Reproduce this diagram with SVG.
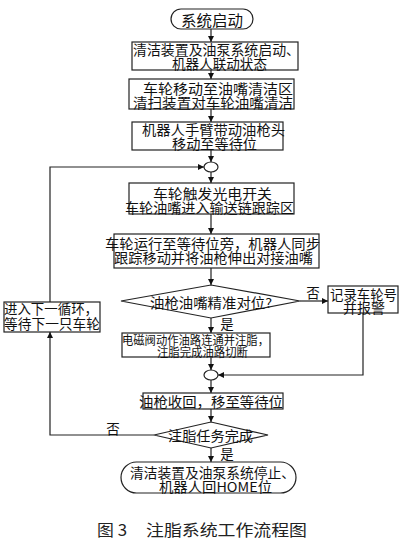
<svg xmlns="http://www.w3.org/2000/svg" width="408" height="542" viewBox="0 0 408 542">
<defs>
<marker id="ah" viewBox="0 0 10 10" refX="10" refY="5" markerWidth="6" markerHeight="6" orient="auto" markerUnits="userSpaceOnUse"><path d="M0,0 L10,5 L0,10 z" fill="#111"/></marker>
<style>
.b{fill:#fff;stroke:#222;stroke-width:1.2}
.t{font-family:"Noto Sans CJK SC","Liberation Serif",serif;font-size:13.5px;fill:#111;dominant-baseline:central}
.m{text-anchor:middle}
.s{font-size:12px}
.c{stroke:#222;stroke-width:1.2;fill:none}
.cap{font-family:"Noto Sans CJK SC",sans-serif;font-size:16px;fill:#222}
</style>
</defs>
<rect width="408" height="542" fill="#fff"/>
<g id="connectors">
<path class="c" d="M211,29 V42" marker-end="url(#ah)"/>
<path class="c" d="M211,70 V79" marker-end="url(#ah)"/>
<path class="c" d="M211,109 V122" marker-end="url(#ah)"/>
<path class="c" d="M211,150 V162" marker-end="url(#ah)"/>
<path class="c" d="M211,172 V183" marker-end="url(#ah)"/>
<path class="c" d="M211,214 V234" marker-end="url(#ah)"/>
<path class="c" d="M211,268 V285" marker-end="url(#ah)"/>
<path class="c" d="M211,318 V333" marker-end="url(#ah)"/>
<path class="c" d="M211,357 V370" marker-end="url(#ah)"/>
<path class="c" d="M211,380 V393" marker-end="url(#ah)"/>
<path class="c" d="M211,409 V422" marker-end="url(#ah)"/>
<path class="c" d="M211,448 V462" marker-end="url(#ah)"/>
<path class="c" d="M300,301 H328" marker-end="url(#ah)"/>
<path class="c" d="M363,313 V375 H218" marker-end="url(#ah)"/>
<path class="c" d="M154,435 H50 V332" marker-end="url(#ah)"/>
<path class="c" d="M50,302 V167 H204" marker-end="url(#ah)"/>
<text class="t m" x="313" y="292">否</text>
<text class="t m" x="227" y="323">是</text>
<text class="t m" x="113" y="428">否</text>
<text class="t m" x="227" y="453">是</text>
</g>
<g id="start"><rect class="b" x="171" y="9" width="82" height="20" rx="10"/><text class="t" x="181" y="19" textLength="62" lengthAdjust="spacingAndGlyphs" style="font-size:15px">系统启动</text></g>
<g id="n1"><rect class="b" x="132" y="42" width="166" height="28"/><text class="t" x="133" y="49" textLength="167" lengthAdjust="spacingAndGlyphs">清洁装置及油泵系统启动、</text><text class="t" x="172" y="63" textLength="95" lengthAdjust="spacingAndGlyphs">机器人联动状态</text></g>
<g id="n2"><rect class="b" x="129" y="79" width="165" height="30"/><text class="t" x="143" y="88" textLength="150" lengthAdjust="spacingAndGlyphs">车轮移动至油嘴清洁区</text><text class="t" x="133" y="102" textLength="160" lengthAdjust="spacingAndGlyphs">清扫装置对车轮油嘴清洁</text></g>
<g id="n3"><rect class="b" x="132" y="122" width="151" height="28"/><text class="t" x="142" y="129" textLength="143" lengthAdjust="spacingAndGlyphs">机器人手臂带动油枪头</text><text class="t" x="172" y="143" textLength="85" lengthAdjust="spacingAndGlyphs">移动至等待位</text></g>
<g id="j1"><ellipse class="b" cx="211" cy="167" rx="7" ry="5"/></g>
<g id="n4"><rect class="b" x="129" y="183" width="165" height="31"/><text class="t" x="153" y="193" textLength="119" lengthAdjust="spacingAndGlyphs">车轮触发光电开关</text><text class="t" x="125" y="207" textLength="169" lengthAdjust="spacingAndGlyphs">车轮油嘴进入输送链跟踪区</text></g>
<g id="n5"><rect class="b" x="114" y="234" width="205" height="34"/><text class="t" x="105" y="243" textLength="215" lengthAdjust="spacingAndGlyphs">车轮运行至等待位旁，机器人同步</text><text class="t" x="114" y="257" textLength="199" lengthAdjust="spacingAndGlyphs">跟踪移动并将油枪伸出对接油嘴</text></g>
<g id="d1"><polygon class="b" points="121,301 211,285 300,301 211,318"/><text class="t" x="150" y="302" textLength="122" lengthAdjust="spacingAndGlyphs">油枪油嘴精准对位?</text></g>
<g id="alarm"><rect class="b" x="328" y="286" width="70" height="27"/><text class="t" x="330" y="294" textLength="67" lengthAdjust="spacingAndGlyphs">记录车轮号</text><text class="t" x="343" y="307" textLength="42" lengthAdjust="spacingAndGlyphs">并报警</text></g>
<g id="next"><rect class="b" x="4" y="302" width="96" height="30"/><text class="t" x="4" y="308" textLength="94" lengthAdjust="spacingAndGlyphs">进入下一循环，</text><text class="t" x="4" y="323" textLength="96" lengthAdjust="spacingAndGlyphs">等待下一只车轮</text></g>
<g id="n6"><rect class="b" x="122" y="333" width="148" height="24"/><text class="t s" x="122" y="339" textLength="147" lengthAdjust="spacingAndGlyphs">电磁阀动作油路连通并注脂，</text><text class="t s" x="157" y="351" textLength="91" lengthAdjust="spacingAndGlyphs">注脂完成油路切断</text></g>
<g id="j2"><ellipse class="b" cx="211" cy="375" rx="7" ry="5"/></g>
<g id="n7"><rect class="b" x="143" y="393" width="140" height="16"/><text class="t" x="139" y="401" textLength="144" lengthAdjust="spacingAndGlyphs">油枪收回，移至等待位</text></g>
<g id="d2"><polygon class="b" points="154,435 211,422 268,435 211,448"/><text class="t" x="168" y="435" textLength="85" lengthAdjust="spacingAndGlyphs">注脂任务完成</text></g>
<g id="end"><rect class="b" x="121" y="462" width="175" height="31" rx="15.5"/><text class="t" x="130" y="472" textLength="165" lengthAdjust="spacingAndGlyphs">清洁装置及油泵系统停止、</text><text class="t" x="159" y="486" textLength="113" lengthAdjust="spacingAndGlyphs">机器人回HOME位</text></g>
<text class="cap" x="97" y="536" textLength="30" lengthAdjust="spacingAndGlyphs">图 3</text>
<text class="cap" x="146" y="536" textLength="161" lengthAdjust="spacingAndGlyphs">注脂系统工作流程图</text>
</svg>
